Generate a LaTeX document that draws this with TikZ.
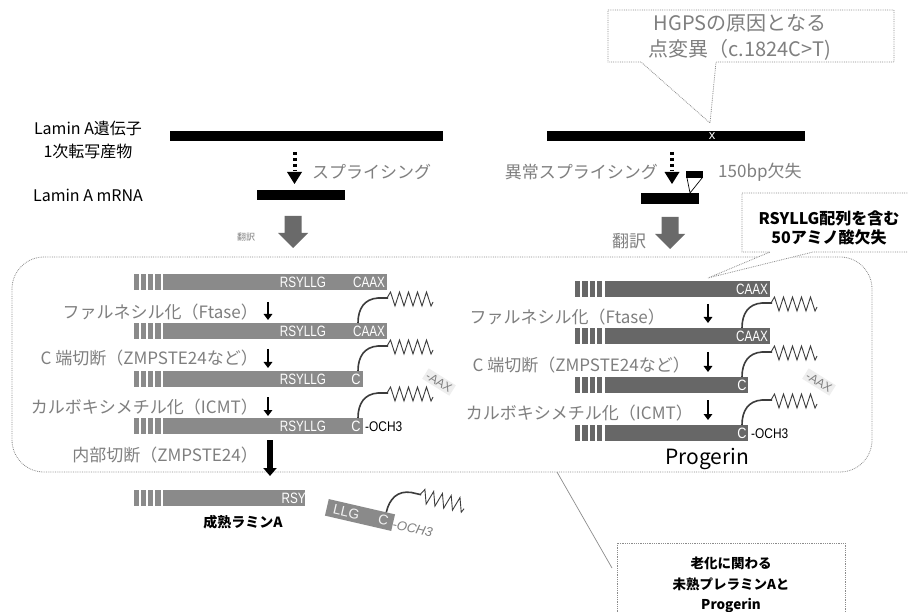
\documentclass[tikz,border=0pt]{standalone}
\usepackage{fontspec}
\usepackage{graphicx}
\setmainfont{Noto Sans CJK JP}
\newfontfamily\arialf{Liberation Sans}
\usetikzlibrary{arrows.meta}
\definecolor{txtgray}{HTML}{7F7F7F}
\definecolor{barLc}{HTML}{8A8A8A}
\definecolor{barRc}{HTML}{676767}
\definecolor{arrgray}{HTML}{6A6A6A}
\definecolor{linegray}{HTML}{8C8C8C}
\definecolor{farnc}{HTML}{3C3C3C}
\definecolor{aaxbg}{HTML}{EEEEEE}
\tikzset{
  lbl/.style={font=\fontsize{17}{20}\selectfont, text=txtgray, inner sep=0pt},
  blk/.style={font=\fontsize{16}{20}\selectfont, text=black, inner sep=0pt},
  bartxt/.style={font=\arialf\fontsize{15}{15}\selectfont, text=white, inner sep=0pt},
  dashbox/.style={draw=linegray, densely dotted, line width=0.8pt},
  callout/.style={draw=linegray, densely dotted, line width=0.8pt, fill=white},
  farncurve/.style={draw=farnc, line width=1.6pt},
  farnzig/.style={draw=farnc, line width=0.9pt, line join=miter},
  steparrow/.style={draw=black, line width=2.6pt, -{Triangle[width=8.5pt,length=6pt]}},
  bigarrow/.style={draw=black, line width=5.5pt, -{Triangle[width=13pt,length=8pt]}},
  dotline/.style={draw=black, line width=4pt, dash pattern=on 3.5pt off 2.5pt},
  aax/.style={font=\arialf\fontsize{12}{12}\selectfont, text=txtgray, fill=aaxbg, inner sep=2pt, rotate=-32},
}
\newcommand\protrow[4]{%
  \foreach \k in {0,1,2,3} \fill[#4] ({#1+\k*7.3},#2) rectangle ++(5.2,16);
  \fill[#4] ({#1+29.8},#2) rectangle (#3,{#2+16});
}
\newcommand\farnch[2]{%
  \begin{scope}[shift={(#1,#2)}]
    \draw[farncurve] (0,0) .. controls (0,-14) and (6,-24) .. (20,-25) -- (30,-25);
    \draw[farnzig] (29,-25) -- (32.5,-31) -- (37,-17) -- (41.5,-31) -- (46,-17) -- (50.5,-31) -- (55,-17) -- (59.5,-31) -- (64,-17) -- (68.5,-31) -- (73,-17) -- (75,-21);
  \end{scope}
}
\newcommand\trarrow[2]{%
  \fill[arrgray] ({#1-8.5},#2) -- ({#1+8.5},#2) -- ({#1+8.5},{#2+17}) -- ({#1+15},{#2+17}) -- (#1,{#2+32}) -- ({#1-15},{#2+17}) -- ({#1-8.5},{#2+17}) -- cycle;
}
\begin{document}
\begin{tikzpicture}[x=1pt,y=-1pt]
\useasboundingbox (0,0) rectangle (908,612);
\fill[white] (0,0) rectangle (908,612);

% big rounded frame
\draw[dashbox, rounded corners=32pt] (12,257) rectangle (872,472);

% top callout
\draw[callout] (608,10) -- (894,10) -- (894,62) -- (716,62) -- (710,123) -- (641,62) -- (608,62) -- cycle;
\node[font=\fontsize{20}{26}\selectfont, text=txtgray, align=center, inner sep=0pt] (hgps) at (740,37) {HGPSの原因となる\\点変異（c.1824C>T)};

% left labels
\node[blk, align=center, font=\fontsize{16}{23}\selectfont] (lgene) at (88,139.5) {Lamin A遺伝子\\1次転写産物};
\node[blk] (lmrna) at (88,195) {Lamin A mRNA};

% gene bars
\fill[black] (170,131) rectangle (443,141);
\fill[black] (547,131) rectangle (805,141);
\node[text=white, font=\arialf\fontsize{13}{13}\selectfont, inner sep=0pt] (xmark) at (712,136.5) {x};

% splicing left
\draw[dotline] (294.5,152) -- (294.5,171);
\fill[black] (287,172) -- (302,172) -- (294.5,184) -- cycle;
\node[lbl, anchor=west] (spl) at (312,172) {スプライシング};
\fill[black] (257,190) rectangle (345,200);

% splicing right
\draw[dotline] (672,152) -- (672,171);
\fill[black] (664.5,172) -- (679.5,172) -- (672,184) -- cycle;
\node[lbl, anchor=east] (aspl) at (658,172) {異常スプライシング};
\fill[black] (686,171) rectangle (703,178);
\draw[black, line width=0.7pt] (687,178) -- (690,193) -- (702,178);
\fill[black] (641,193) rectangle (699,204);
\node[lbl, anchor=west] (del) at (718,172) {150bp欠失};

% translation arrows
\trarrow{293}{216}
\node[font=\fontsize{9}{10}\selectfont, text=txtgray, inner sep=0pt] (trL) at (246,237) {翻訳};
\trarrow{670}{217}
\node[lbl] (trR) at (629,241) {翻訳};

% RSYLLG callout
\draw[callout] (742,193) -- (920,193) -- (920,252) -- (813,252) -- (708,278) -- (770,252) -- (742,252) -- cycle;
\node[font=\fontsize{16}{19}\selectfont\bfseries, align=center, inner sep=0pt] (rsy) at (829,228) {RSYLLG配列を含む\\50アミノ酸欠失};

% ===== left protein rows =====
\protrow{133.5}{274}{387}{barLc}
\protrow{133.5}{323}{387}{barLc}
\protrow{133.5}{371}{363}{barLc}
\protrow{133.5}{418}{363}{barLc}
\protrow{133.5}{490}{305}{barLc}

\node[bartxt] (l1a) at (303,282) {\scalebox{0.78}[1]{RSYLLG}};
\node[bartxt] (l1b) at (369,282) {\scalebox{0.78}[1]{CAAX}};
\node[bartxt] (l2a) at (303,331) {\scalebox{0.78}[1]{RSYLLG}};
\node[bartxt] (l2b) at (369,331) {\scalebox{0.78}[1]{CAAX}};
\node[bartxt] (l3a) at (303,379) {\scalebox{0.78}[1]{RSYLLG}};
\node[bartxt] (l3b) at (356,379) {\scalebox{0.85}[1]{C}};
\node[bartxt] (l4a) at (303,426) {\scalebox{0.78}[1]{RSYLLG}};
\node[bartxt] (l4b) at (356,426) {\scalebox{0.85}[1]{C}};
\node[bartxt, anchor=west, text=black, font=\arialf\fontsize{14}{14}\selectfont] (l4c) at (365,426.5) {\scalebox{0.85}[1]{-OCH3}};
\node[bartxt, anchor=east] (l5a) at (306,498) {\scalebox{0.78}[1]{RSY}};

\farnch{358}{323}
\farnch{358}{371}
\farnch{358}{418}

\node[aax] (aaxL) at (439,382) {-AAX};

% left step labels and arrows
\node[lbl, anchor=east] (s1) at (258,312) {ファルネシル化（Ftase）};
\draw[steparrow] (268,302) -- (268,320);
\node[lbl, anchor=east] (s2) at (258,358) {C 端切断（ZMPSTE24など）};
\draw[steparrow] (268,349) -- (268,368);
\node[lbl, anchor=east] (s3) at (258,407) {カルボキシメチル化（ICMT）};
\draw[steparrow] (268,397) -- (268,416);
\node[lbl, anchor=east] (s4) at (258,455) {内部切断（ZMPSTE24）};
\draw[bigarrow] (270,440) -- (270,476);

% mature lamin A
\node[font=\fontsize{14}{16}\selectfont\bfseries, inner sep=0pt] (mature) at (243,522) {成熟ラミンA};

% cleaved fragment
\begin{scope}[shift={(360,515)}, rotate=-13]
  \fill[barLc] (-34,-8.5) rectangle (34,8.5);
  \node[font=\arialf\fontsize{14}{14}\selectfont, text=white!90!gray, inner sep=0pt, rotate=-13] (frA) at (-14,0) {LLG};
  \node[font=\arialf\fontsize{14}{14}\selectfont, text=white!90!gray, inner sep=0pt, rotate=-13] (frB) at (24,0) {C};
  \node[font=\arialf\itshape\fontsize{13}{13}\selectfont, text=txtgray, inner sep=0pt, anchor=west, rotate=-13] (frC) at (34,1.5) {-OCH3};
  \farnch{25}{-8.5}
\end{scope}

% ===== right protein rows (Progerin) =====
\protrow{575}{281}{770}{barRc}
\protrow{575}{328}{770}{barRc}
\protrow{575}{377}{748}{barRc}
\protrow{575}{425}{748}{barRc}

\node[bartxt] (r1b) at (752,289) {\scalebox{0.78}[1]{CAAX}};
\node[bartxt] (r2b) at (752,336) {\scalebox{0.78}[1]{CAAX}};
\node[bartxt] (r3b) at (742,385) {\scalebox{0.85}[1]{C}};
\node[bartxt] (r4b) at (742,433) {\scalebox{0.85}[1]{C}};
\node[bartxt, anchor=west, text=black, font=\arialf\fontsize{14}{14}\selectfont] (r4c) at (751,433.5) {\scalebox{0.85}[1]{-OCH3}};

\farnch{742}{328}
\farnch{742}{377}
\farnch{742}{425}

\node[aax] (aaxR) at (819,382) {-AAX};

\node[lbl, anchor=east] (t1) at (665,317) {ファルネシル化（Ftase）};
\draw[steparrow] (708,304) -- (708,323);
\node[lbl, anchor=east] (t2) at (690,365) {C 端切断（ZMPSTE24など）};
\draw[steparrow] (708,352) -- (708,372);
\node[lbl, anchor=east] (t3) at (693,413) {カルボキシメチル化（ICMT）};
\draw[steparrow] (708,400) -- (708,420);

\node[font=\fontsize{21}{24}\selectfont, inner sep=0pt] (prog) at (707,459) {Progerin};

% bottom callout
\coordinate (tailtop) at (557,472);
\coordinate (tailend) at (612,568);
\draw[linegray, line width=0.7pt] (tailtop) -- (tailend);
\draw[callout] (617,543) rectangle (845,630);
\node[font=\fontsize{13.5}{20.5}\selectfont\bfseries, align=center, inner sep=0pt] (aging) at (731,585) {老化に関わる\\未熟プレラミンAと\\Progerin};

\end{tikzpicture}
\end{document}
